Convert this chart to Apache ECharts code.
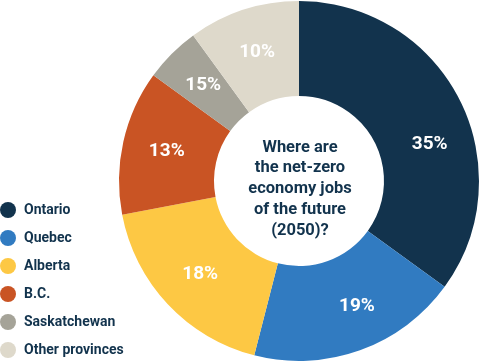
<!DOCTYPE html>
<html><head><meta charset="utf-8">
<script src="https://cdn.jsdelivr.net/npm/echarts@6/dist/echarts.min.js"></script>
<style>html,body{margin:0;padding:0;background:#fff}#c{width:480px;height:362px}</style>
</head><body><div id="c"></div>
<script>
const categories = ["Ontario", "Quebec", "Alberta", "B.C.", "Saskatchewan", "Other provinces"];
const values = [35, 19, 18, 13, 5, 10];
const labelTexts = ["35%", "19%", "18%", "13%", "15%", "10%"];
const colors = ["#12334d", "#317bc1", "#fdc844", "#c95424", "#a5a398", "#ded9cb"];
const centerTitle = "Where are\nthe net-zero\neconomy jobs\nof the future\n(2050)?";
// label nudges (style only) for slices whose labels are not at the slice's mid-angle
const labelNudges = [[10, 25], [12, -2], [0, 0], [0, 0], [0, 0], [0, 0]];

const chart = echarts.init(document.getElementById('c'), null, {renderer: 'canvas'});
chart.setOption({
  animation: false,
  color: colors,
  legend: {
    orient: 'vertical', left: 0, top: 202, height: 170, padding: 0,
    icon: 'circle', itemWidth: 16, itemHeight: 16, itemGap: 12,
    data: categories,
    textStyle: {fontFamily: 'Roboto', fontWeight: 'bold', fontSize: 14, color: '#12334d', padding: [0,0,0,3]}
  },
  graphic: [{
    type: 'text', x: 300, y: 189,
    style: {
      text: centerTitle, align: 'center', verticalAlign: 'middle',
      fontFamily: 'Roboto', fontWeight: 'bold', fontSize: 16.5, lineHeight: 20.7, fill: '#12334d'
    }
  }],
  series: [{
    type: 'pie',
    center: [299, 181],
    radius: [85, 180],
    startAngle: 90,
    clockwise: true,
    silent: true,
    label: {
      position: 'inside', color: '#fff', fontFamily: 'Roboto', fontWeight: 'bold', fontSize: 19,
      formatter: p => labelTexts[p.dataIndex]
    },
    labelLine: {show: false},
    data: categories.map((n, i) => ({name: n, value: values[i], label: {offset: labelNudges[i]}}))
  }]
});
</script></body></html>
